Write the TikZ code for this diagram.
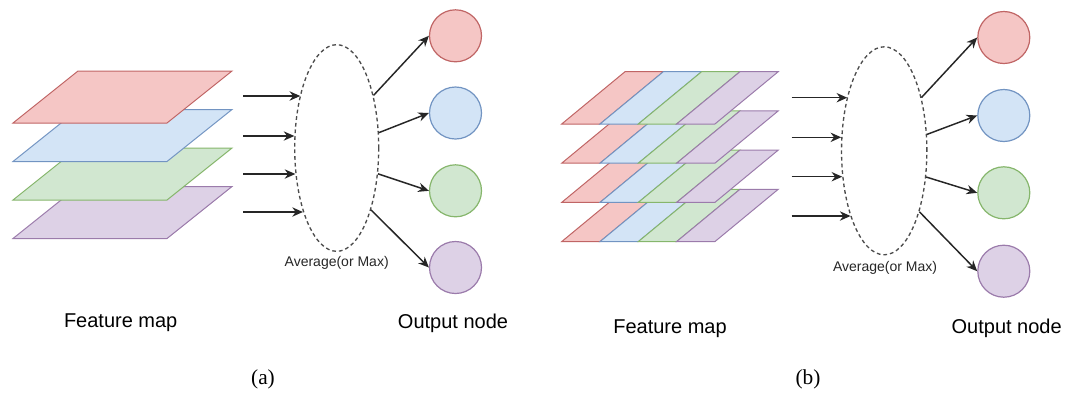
\documentclass[tikz,border=0pt]{standalone}
\usepackage{fontspec}
\setmainfont{Liberation Serif}
\setsansfont{Liberation Sans}
\usepackage{xcolor}
\usepackage{tikz}
\usetikzlibrary{shapes.geometric, positioning, arrows.meta}

\definecolor{fillred}{HTML}{F5C6C5}
\definecolor{linered}{HTML}{C06565}
\definecolor{fillblue}{HTML}{D3E4F6}
\definecolor{lineblue}{HTML}{7294C2}
\definecolor{fillgreen}{HTML}{D1E7D0}
\definecolor{linegreen}{HTML}{86B66C}
\definecolor{fillpurple}{HTML}{DDD1E6}
\definecolor{linepurple}{HTML}{9B7BAB}

\begin{document}
\begin{tikzpicture}[x=0.75pt, y=-0.75pt, >=Stealth,
  pool/.style={draw=black!70, dashed, dash pattern=on 2.8pt off 2.2pt, line width=1pt, ellipse, inner sep=0pt, minimum width=63pt, minimum height=155pt},
  outnode/.style={draw, circle, line width=0.9pt, inner sep=0pt, minimum size=39pt},
  arr/.style={->, draw=black!85, line width=1.1pt, >={Stealth[length=8pt, width=7pt]}},
  lbl/.style={font=\sffamily\fontsize{15}{18}\selectfont, anchor=base},
  poollbl/.style={font=\sffamily\fontsize{10.5}{12}\selectfont, anchor=base, text=black!85},
  captext/.style={font=\rmfamily\fontsize{16}{19}\selectfont, anchor=base}]
  \useasboundingbox (0,0) rectangle (1067,394);

  % (a) feature map, one colour per channel
  \foreach \i/\c in {3/purple, 2/green, 1/blue, 0/red}
    \filldraw[fill=fill\c, draw=line\c, line width=0.75pt]
      (13,123+38.5*\i) -- ++(154,0) -- ++(65,-52) -- ++(-154,0) -- cycle;

  \node[pool] (poolA) at (336.7,148) {};
  \node[poollbl] (avgA) at (336.7,266) {Average(or Max)};

  \node[outnode, fill=fillred, draw=linered] (outA1) at (455.5,35.8) {};
  \node[outnode, fill=fillblue, draw=lineblue] (outA2) at (455.5,113) {};
  \node[outnode, fill=fillgreen, draw=linegreen] (outA3) at (455.5,190.8) {};
  \node[outnode, fill=fillpurple, draw=linepurple] (outA4) at (455.5,267.5) {};

  \foreach \y/\a [count=\k] in {96/124.7, 136/163.8, 174/212.8, 212/242.9} {
    \coordinate (inA\k) at (243,\y);
    \draw[arr] (inA\k) -- (poolA.\a |- inA\k);
  }
  \foreach \a [count=\k] in {55.7, 20.9, -32.5, -61.5}
    \draw[arr] (poolA.\a) -- (outA\k.west);

  \node[lbl] (fmA) at (120.7,327) {Feature map};
  \node[lbl] (onA) at (453,328) {Output node};
  \node[captext] (capA) at (263,384) {(a)};

  % (b) feature map, channels split in strips
  \foreach \i in {3,2,1,0}
    \foreach \c [count=\j from 0] in {red, blue, green, purple}
      \filldraw[fill=fill\c, draw=line\c, line width=0.75pt]
        (561.7+38.3*\j,124+39.2*\i) -- ++(38.3,0) -- ++(63.3,-52.3) -- ++(-38.3,0) -- cycle;

  \node[pool, minimum width=64pt, minimum height=156pt] (poolB) at (884.2,150.8) {};
  \node[poollbl] (avgB) at (885,271) {Average(or Max)};

  \node[outnode, fill=fillred, draw=linered] (outB1) at (1003.8,37.5) {};
  \node[outnode, fill=fillblue, draw=lineblue] (outB2) at (1003.8,115.5) {};
  \node[outnode, fill=fillgreen, draw=linegreen] (outB3) at (1003.8,192.8) {};
  \node[outnode, fill=fillpurple, draw=linepurple] (outB4) at (1003.8,271.2) {};

  \foreach \y/\a [count=\k] in {97.7/124.6, 137.3/162.2, 176.7/212.2, 216/243.1} {
    \coordinate (inB\k) at (791.7,\y);
    \draw[arr] (inB\k) -- (poolB.\a |- inB\k);
  }
  \foreach \a [count=\k] in {55.7, 21.2, -32.4, -60.9}
    \draw[arr] (poolB.\a) -- (outB\k.west);

  \node[lbl] (fmB) at (670,333.3) {Feature map};
  \node[lbl] (onB) at (1006.7,333) {Output node};
  \node[captext] (capB) at (808,384) {(b)};
\end{tikzpicture}
\end{document}
